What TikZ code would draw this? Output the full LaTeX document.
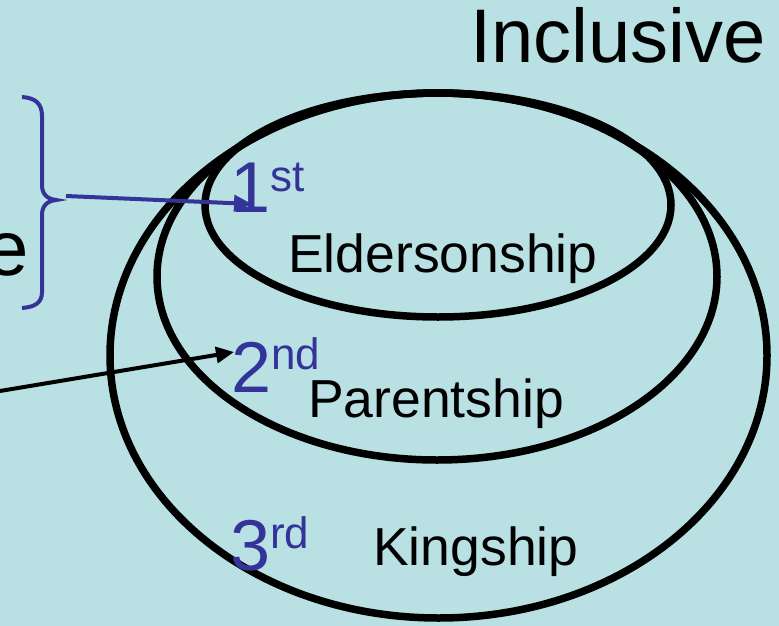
\documentclass[tikz,border=0pt]{standalone}
\usepackage{fontspec}
\setmainfont{Liberation Sans}
\usetikzlibrary{arrows.meta}
\definecolor{bg}{RGB}{185,224,227}
\definecolor{ordblue}{RGB}{51,51,153}
\newcommand\ordsuffixfont{\fontsize{44}{44}\selectfont}
\begin{document}
\begin{tikzpicture}[x=1pt,y=-1pt,
  ring/.style={draw=black,line width=7.5pt},
  txt/.style={inner sep=0pt,anchor=base west,font=\fontsize{53.5}{60}\selectfont},
  ordnum/.style={inner sep=0pt,anchor=base west,text=ordblue,font=\fontsize{72}{80}\selectfont},
  arrowlink/.style={line width=4pt,-{Triangle[length=18pt,width=16pt]}},
  bracepath/.style={draw=ordblue,line width=4pt}]
\fill[bg] (0,0) rectangle (779,626);
\useasboundingbox (0,0) rectangle (779,626);
% rings
\draw[ring] (438.5,355.5) ellipse [x radius=328.5pt, y radius=262.5pt];
\draw[ring] (437,276.5) ellipse [x radius=280pt, y radius=183.5pt];
\draw[ring] (438,205) ellipse [x radius=233pt, y radius=112pt];
% texts
\node[inner sep=0pt,anchor=base east,font=\fontsize{76}{80}\selectfont] (title) at (766,63) {Inclusive};
\node[inner sep=0pt,anchor=base east,font=\fontsize{78}{80}\selectfont] (cut) at (29,275) {e};
\node[txt] (elder) at (288,272) {Eldersonship};
\node[txt] (parent) at (308,417) {Parentship};
\node[txt] (king) at (373,565) {Kingship};
\node[ordnum] (d1) at (230,212) {1\raisebox{21pt}{\ordsuffixfont st}};
\node[ordnum] (d2) at (231,392) {2\raisebox{23pt}{\ordsuffixfont nd}};
\node[ordnum] (d3) at (230,570) {3\raisebox{22pt}{\ordsuffixfont rd}};
% brace
\draw[bracepath] (22,97) .. controls (36,98) and (42,104) .. (42,116) -- (42,185)
  .. controls (42,194) and (47,199) .. (56,200)
  .. controls (47,201) and (42,206) .. (42,215) -- (42,292)
  .. controls (42,302) and (36,307) .. (22,308);
\coordinate (bracetip) at (66,196);
\coordinate (leftend) at (0,391);
% connectors
\draw[arrowlink,draw=ordblue,fill=ordblue] (bracetip) -- ([xshift=22pt,yshift=8pt]d1.base west);
\draw[arrowlink,draw=black,fill=black] (leftend) -- ([xshift=3pt,yshift=40pt]d2.base west);
\end{tikzpicture}
\end{document}
